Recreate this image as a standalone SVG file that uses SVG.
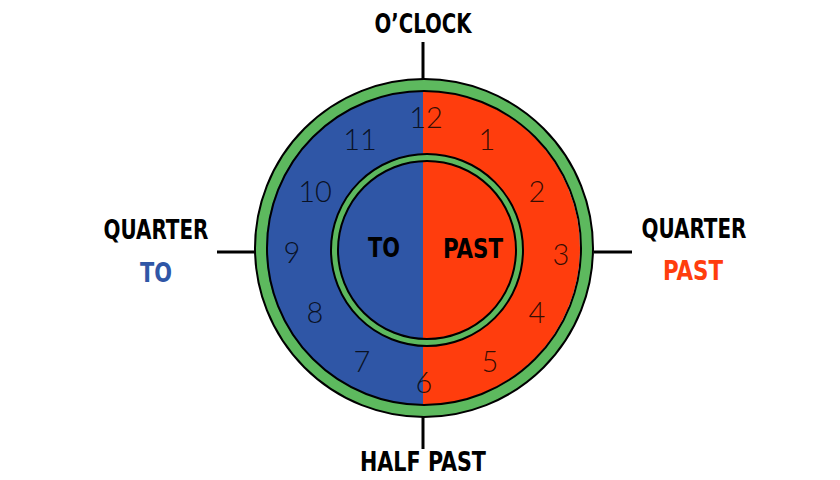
<svg xmlns="http://www.w3.org/2000/svg" width="840" height="480" viewBox="0 0 840 480">
<style>
.lbl{font-family:"DejaVu Sans Condensed","DejaVu Sans",sans-serif;font-weight:bold;font-size:26px;text-anchor:middle}
.num{font-family:Lato,"Open Sans",sans-serif;font-weight:300;font-size:29px;text-anchor:middle;fill:#000;fill-opacity:0.8}
.tick{stroke:#000;stroke-width:3}
.ring{fill:none;stroke:#000;stroke-width:2}
</style>
<rect width="840" height="480" fill="#fff"/>
<g id="connectors">
<line class="tick" x1="423" y1="42" x2="423" y2="81"/>
<line class="tick" x1="217" y1="252" x2="257" y2="252"/>
<line class="tick" x1="594" y1="252" x2="632" y2="252"/>
<line class="tick" x1="423" y1="416" x2="423" y2="449"/>
</g>
<g id="clock">
<circle cx="424" cy="248" r="163" fill="none" stroke="#5DB95E" stroke-width="12"/>
<path d="M423 91 A157 157 0 0 0 423 405 Z" fill="#2F56A6"/>
<path d="M423 91 A157 157 0 0 1 423 405 Z" fill="#FF3D0D"/>
<circle class="ring" cx="424" cy="248" r="169"/>
<circle class="ring" cx="424" cy="248" r="157"/>
<circle cx="427" cy="250" r="92.5" fill="none" stroke="#5DB95E" stroke-width="6"/>
<circle class="ring" cx="427" cy="250" r="96" stroke-width="1.5"/>
<circle class="ring" cx="427" cy="250" r="89" stroke-width="1.5"/>
</g>
<g id="numbers">
<text class="num" x="426" y="128">12</text>
<text class="num" x="487" y="150">1</text>
<text class="num" x="537" y="202">2</text>
<text class="num" x="561" y="265">3</text>
<text class="num" x="537" y="323">4</text>
<text class="num" x="490" y="372">5</text>
<text class="num" x="424" y="393">6</text>
<text class="num" x="362" y="372">7</text>
<text class="num" x="315" y="323">8</text>
<text class="num" x="292" y="263">9</text>
<text class="num" x="315" y="202">10</text>
<text class="num" x="360" y="150">11</text>
</g>
<g id="label-oclock"><text class="lbl" x="423" y="33" textLength="97" lengthAdjust="spacingAndGlyphs">O’CLOCK</text></g>
<g id="label-quarter-to">
<text class="lbl" x="156" y="239" textLength="105" lengthAdjust="spacingAndGlyphs">QUARTER</text>
<text class="lbl" x="156" y="282" fill="#2F56A6" textLength="32" lengthAdjust="spacingAndGlyphs">TO</text>
</g>
<g id="label-quarter-past">
<text class="lbl" x="694" y="238" textLength="105" lengthAdjust="spacingAndGlyphs">QUARTER</text>
<text class="lbl" x="693" y="280" fill="#FF3D0D" textLength="60" lengthAdjust="spacingAndGlyphs">PAST</text>
</g>
<g id="label-to"><text class="lbl" x="384" y="257" textLength="32" lengthAdjust="spacingAndGlyphs">TO</text></g>
<g id="label-past"><text class="lbl" x="473" y="258" textLength="60" lengthAdjust="spacingAndGlyphs">PAST</text></g>
<g id="label-half-past"><text class="lbl" x="423" y="471" textLength="126" lengthAdjust="spacingAndGlyphs">HALF PAST</text></g>
</svg>
